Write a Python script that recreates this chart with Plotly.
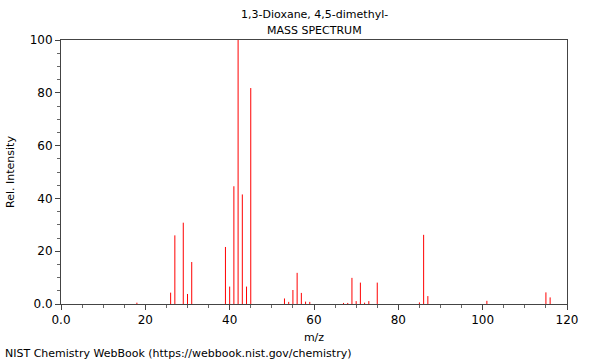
import plotly.graph_objects as go

mz = [18, 26, 27, 29, 30, 31, 39, 40, 41, 42, 43, 44, 45,
      53, 54, 55, 56, 57, 58, 59, 67, 68, 69, 70, 71, 72, 73, 75,
      85, 86, 87, 101, 115, 116]
intensity = [0.5, 4.3, 26.0, 30.8, 3.8, 15.9, 21.6, 6.6, 44.6, 100.0, 41.5, 6.6, 81.8,
             2.1, 0.8, 5.3, 11.8, 4.2, 0.9, 0.8, 0.4, 0.4, 9.9, 1.1, 8.1, 0.5, 1.1, 8.1,
             0.6, 26.2, 3.0, 1.2, 4.4, 2.5]

x_ticks = [0, 20, 40, 60, 80, 100, 120]
x_tick_labels = ["0.0", "20", "40", "60", "80", "100", "120"]
y_ticks = [0, 20, 40, 60, 80, 100]
y_tick_labels = ["0.0", "20", "40", "60", "80", "100"]

xs, ys = [], []
for m, v in zip(mz, intensity):
    xs += [m, m, None]
    ys += [0, v, None]

fig = go.Figure()
fig.add_trace(go.Scatter(x=xs, y=ys, mode="lines",
                         line=dict(color="#ff0000", width=1),
                         hoverinfo="skip", showlegend=False))

font = "DejaVu Sans, sans-serif"
axis_common = dict(
    automargin=False,
    showgrid=False, zeroline=False, showline=True, linecolor="#444444",
    linewidth=1, mirror=True, ticks="outside", ticklen=5, tickcolor="#444444",
    tickfont=dict(family=font, size=12, color="#000000"),
    minor=dict(ticks="outside", ticklen=3, tickcolor="#666666", dtick=5),
    showspikes=False,
)
fig.update_xaxes(range=[0, 120], tickvals=x_ticks, ticktext=x_tick_labels,
                 title=dict(text="m/z", font=dict(family=font, size=11, color="#000"), standoff=6),
                 **axis_common)
fig.update_yaxes(range=[0, 100], tickvals=y_ticks, ticktext=y_tick_labels,
                 title=dict(text="Rel. Intensity", font=dict(family=font, size=11, color="#000"), standoff=12),
                 **axis_common)

fig.update_layout(
    width=600, height=360,
    margin=dict(l=61, r=33, t=40, b=56, autoexpand=False),
    plot_bgcolor="white", paper_bgcolor="white",
    font=dict(family=font, size=12, color="#000"),
    hovermode=False,
)
fig.add_annotation(text="1,3-Dioxane, 4,5-dimethyl-", xref="paper", yref="paper",
                   x=0.5, y=1.0, yshift=26, showarrow=False, yanchor="middle",
                   font=dict(family=font, size=11, color="#000"))
fig.add_annotation(text="MASS SPECTRUM", xref="paper", yref="paper",
                   x=0.5, y=1.0, yshift=10, showarrow=False, yanchor="middle",
                   font=dict(family=font, size=11, color="#000"))
fig.add_annotation(text="NIST Chemistry WebBook (https://webbook.nist.gov/chemistry)",
                   xref="paper", yref="paper", x=0, y=0, xshift=-58, yshift=-49,
                   xanchor="left", yanchor="middle", showarrow=False,
                   font=dict(family=font, size=11, color="#000"))

fig.write_html("out.html", config={"displayModeBar": False, "staticPlot": True},
               post_script="document.body.style.margin='0';document.body.style.overflow='hidden';")
